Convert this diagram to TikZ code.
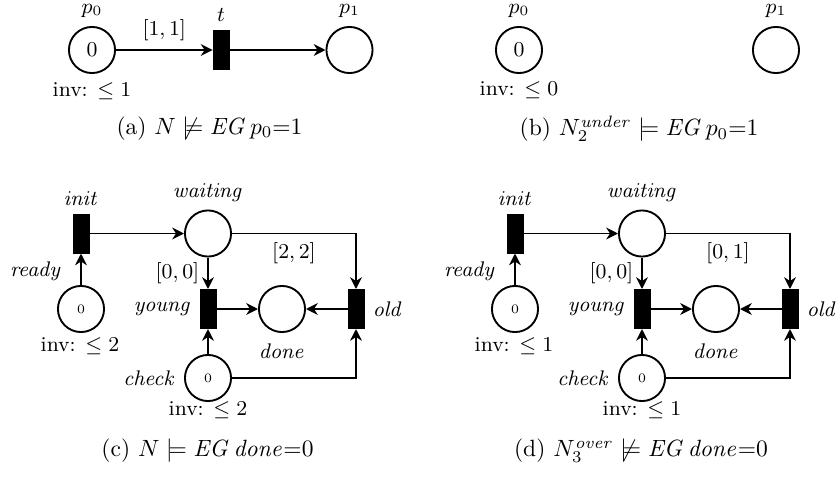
\documentclass[tikz,border=0pt]{standalone}
\usepackage{amsmath,amssymb}
\usepackage{tikz}
\usetikzlibrary{positioning, arrows.meta}

\begin{document}
\begin{tikzpicture}[
        x=0.425pt, y=-0.425pt,
        font=\small,
        place/.style={draw, circle, thick, minimum size=19.6pt, inner sep=0pt},
        trans/.style={draw, fill=black, rectangle, minimum width=6.8pt, minimum height=16.6pt, inner sep=0pt},
        arc/.style={-{Stealth[length=5pt, width=5pt]}, thick},
        tok/.style={font=\fontsize{5.5}{6}\selectfont},
        capt/.style={font=\normalsize},
    ]
    \useasboundingbox (0,0) rectangle (839,477);

    % (a) the net N
    \node[place] (p0a) at (92,50) {0};
    \node[trans] (ta) at (221,50) {};
    \node[place] (p1a) at (349.5,50) {};
    \node[above=0pt of p0a] (p0alab) {$p_0$};
    \node[above=0pt of ta] (talab) {$t$};
    \node[above=0pt of p1a] (p1alab) {$p_1$};
    \node (inva) at (92,91) {inv: $\leq 1$};
    \draw[arc] (p0a) -- (ta) node[midway, above] (g11a) {$[1,1]$};
    \draw[arc] (ta) -- (p1a);
    \node[capt] (capa) at (209.5,128.5) {(a) $N \not\models \mathit{EG}\,p_0{=}1$};

    % (b) under-approximation
    \node[place] (p0b) at (519,50) {0};
    \node[place] (p1b) at (776,50) {};
    \node[above=0pt of p0b] (p0blab) {$p_0$};
    \node[above=0pt of p1b] (p1blab) {$p_1$};
    \node (invb) at (519,90) {inv: $\leq 0$};
    \node[capt] (capb) at (639,128.5) {(b) $N_2^{\mathit{under}} \models \mathit{EG}\,p_0{=}1$};

    % (c) the net N
    \node[trans] (initc) at (81,233.5) {};
    \node[place, tok] (readyc) at (81,309) {0};
    \node[place] (waitc) at (208,233.5) {};
    \node[trans] (youngc) at (208,309) {};
    \node[place] (donec) at (282,309) {};
    \node[trans] (oldc) at (356,309) {};
    \node[place, tok] (checkc) at (208,378) {0};

    \node[above=0pt of initc] (initclab) {$\mathit{init}$};
    \node[above=0pt of waitc] (waitclab) {$\mathit{waiting}$};
    \node (readyclab) at (36,271) {$\mathit{ready}$};
    \node[left=0pt of youngc] (youngclab) {$\mathit{young}$};
    \node[right=0pt of oldc] (oldclab) {$\mathit{old}$};
    \node[below=1pt of donec] (doneclab) {$\mathit{done}$};
    \node[left=0pt of checkc] (checkclab) {$\mathit{check}$};
    \node (invrc) at (80,346.5) {inv: $\leq 2$};
    \node (invcc) at (208,410.5) {inv: $\leq 2$};

    \draw[arc] (readyc) -- (initc);
    \draw[arc] (initc) -- (waitc);
    \draw[arc] (waitc) -- (youngc) node[midway, left] (g00c) {$[0,0]$};
    \draw[arc] (waitc) -| (oldc) node[pos=0.25, below] (g22c) {$[2,2]$};
    \draw[arc] (youngc) -- (donec);
    \draw[arc] (oldc) -- (donec);
    \draw[arc] (checkc) -- (youngc);
    \draw[arc] (checkc) -| (oldc);
    \node[capt] (capc) at (207.5,451) {(c) $N \models \mathit{EG}\,\mathit{done}{=}0$};

    % (d) over-approximation
    \node[trans] (initd) at (515,233.5) {};
    \node[place, tok] (readyd) at (515,309) {0};
    \node[place] (waitd) at (642,233.5) {};
    \node[trans] (youngd) at (642,309) {};
    \node[place] (doned) at (716,309) {};
    \node[trans] (oldd) at (790,309) {};
    \node[place, tok] (checkd) at (642,378) {0};

    \node[above=0pt of initd] (initdlab) {$\mathit{init}$};
    \node[above=0pt of waitd] (waitdlab) {$\mathit{waiting}$};
    \node (readydlab) at (470,271) {$\mathit{ready}$};
    \node[left=0pt of youngd] (youngdlab) {$\mathit{young}$};
    \node[right=0pt of oldd] (olddlab) {$\mathit{old}$};
    \node[below=1pt of doned] (donedlab) {$\mathit{done}$};
    \node[left=0pt of checkd] (checkdlab) {$\mathit{check}$};
    \node (invrd) at (514,346.5) {inv: $\leq 1$};
    \node (invcd) at (642,410.5) {inv: $\leq 1$};

    \draw[arc] (readyd) -- (initd);
    \draw[arc] (initd) -- (waitd);
    \draw[arc] (waitd) -- (youngd) node[midway, left] (g00d) {$[0,0]$};
    \draw[arc] (waitd) -| (oldd) node[pos=0.25, below] (g01d) {$[0,1]$};
    \draw[arc] (youngd) -- (doned);
    \draw[arc] (oldd) -- (doned);
    \draw[arc] (checkd) -- (youngd);
    \draw[arc] (checkd) -| (oldd);
    \node[capt] (capd) at (641,451) {(d) $N_3^{\mathit{over}} \not\models \mathit{EG}\,\mathit{done}{=}0$};

\end{tikzpicture}
\end{document}
